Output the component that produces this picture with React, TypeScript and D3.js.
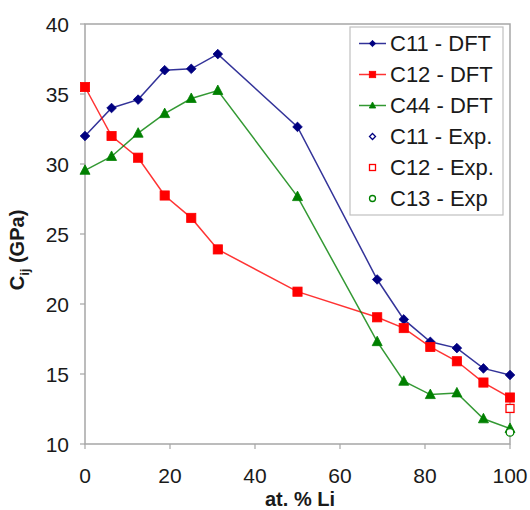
import React from "react";
import * as d3 from "d3";

const xs = [0, 6.25, 12.5, 18.75, 25, 31.25, 50, 68.75, 75, 81.25, 87.5, 93.75, 100];
const c11Dft = [32.0, 34.0, 34.6, 36.7, 36.8, 37.85, 32.65, 21.75, 18.9, 17.3, 16.85, 15.4, 14.93];
const c12Dft = [35.5, 32.0, 30.45, 27.75, 26.15, 23.9, 20.88, 19.05, 18.28, 16.93, 15.91, 14.39, 13.32];
const c44Dft = [29.55, 30.54, 32.2, 33.6, 34.68, 35.25, 27.67, 17.31, 14.48, 13.53, 13.65, 11.8, 11.11];
const expX = [100];
const c11Exp = [14.93];
const c12Exp = [12.54];
const c13Exp = [10.83];
const xTicks = [0, 20, 40, 60, 80, 100];
const yTicks = [10, 15, 20, 25, 30, 35, 40];

const W = 530, H = 510;
const L = 85, R = 510, T = 24, B = 444;
const FONT = "'Liberation Sans', Arial, sans-serif";
const BLUE = "#000080", RED = "#ff0000", GREEN = "#008000";

function Marker({ kind, x, y, s, color, open }: any) {
  const fill = open ? "white" : color;
  const sw = open ? 1.3 : 0.8;
  if (kind === "diamond")
    return <path d={`M${x},${y - s}L${x + s},${y}L${x},${y + s}L${x - s},${y}Z`} fill={fill} stroke={color} strokeWidth={sw} />;
  if (kind === "square")
    return <rect x={x - s} y={y - s} width={2 * s} height={2 * s} fill={fill} stroke={color} strokeWidth={sw} />;
  if (kind === "triangle")
    return <path d={`M${x},${y - s * 1.1}L${x + s},${y + s * 0.8}L${x - s},${y + s * 0.8}Z`} fill={fill} stroke={color} strokeWidth={sw} />;
  return <circle cx={x} cy={y} r={s} fill={fill} stroke={color} strokeWidth={sw} />;
}

export default function App() {
  const x = d3.scaleLinear().domain([0, 100]).range([L, R]);
  const y = d3.scaleLinear().domain([10, 40]).range([B, T]);
  const line = d3.line<number>().x((_, i) => x(xs[i])).y((d) => y(d));

  const dft = [
    { name: "C11 - DFT", vals: c11Dft, color: BLUE, kind: "diamond", s: 4.8 },
    { name: "C12 - DFT", vals: c12Dft, color: RED, kind: "square", s: 4.6 },
    { name: "C44 - DFT", vals: c44Dft, color: GREEN, kind: "triangle", s: 5 },
  ];
  const exp = [
    { name: "C11 - Exp.", vals: c11Exp, color: BLUE, kind: "diamond", s: 4 },
    { name: "C12 - Exp.", vals: c12Exp, color: RED, kind: "square", s: 4 },
    { name: "C13 - Exp", vals: c13Exp, color: GREEN, kind: "circle", s: 3.8 },
  ];

  const legendY0 = 43.5, legendDy = 31;

  return (
    <svg width={W} height={H} style={{ position: "absolute", left: 0, top: 0, fontFamily: FONT }}>
      <rect width={W} height={H} fill="white" />
      <rect x={L} y={T} width={R - L} height={B - T} fill="none" stroke="#a6a6a6" strokeWidth={1.5} />
      {yTicks.map((t) => (
        <g key={"y" + t}>
          <line x1={L - 5} x2={L} y1={y(t)} y2={y(t)} stroke="#a6a6a6" strokeWidth={1.2} />
          <text x={69} y={y(t)} dy="0.36em" textAnchor="end" fontSize={21} fill="#1a1a1a">{t}</text>
        </g>
      ))}
      {xTicks.map((t) => (
        <g key={"x" + t}>
          <line x1={x(t)} x2={x(t)} y1={B} y2={B + 5} stroke="#a6a6a6" strokeWidth={1.2} />
          <text x={x(t)} y={483} textAnchor="middle" fontSize={21} fill="#1a1a1a">{t}</text>
        </g>
      ))}
      <text x={300} y={506} textAnchor="middle" fontSize={20} fontWeight="bold" fill="#1a1a1a">at. % Li</text>
      <text transform="translate(24,250) rotate(-90)" textAnchor="middle" fontSize={20} fontWeight="bold" fill="#1a1a1a">
        C<tspan fontSize={13} dy={5}>ij</tspan><tspan dy={-5}> (GPa)</tspan>
      </text>
      {dft.map((s) => (
        <g key={s.name}>
          <path d={line(s.vals) || ""} fill="none" stroke={s.color} strokeWidth={1.5} opacity={0.8} />
          {s.vals.map((v, i) => (
            <Marker key={i} kind={s.kind} x={x(xs[i])} y={y(v)} s={s.s} color={s.color} />
          ))}
        </g>
      ))}
      {exp.map((s) => (
        <g key={s.name}>
          {s.vals.map((v, i) =>
            s.name.startsWith("C11") ? null : (
              <Marker key={i} kind={s.kind} x={x(expX[i])} y={y(v)} s={s.s} color={s.color} open />
            )
          )}
        </g>
      ))}
      <rect x={350} y={27} width={153} height={188} fill="white" stroke="#c0c0c0" strokeWidth={1.2} />
      {[...dft, ...exp].map((s, i) => {
        const ly = legendY0 + i * legendDy;
        const isLine = i < 3;
        return (
          <g key={"lg" + s.name}>
            {isLine && <line x1={359} x2={386} y1={ly} y2={ly} stroke={s.color} strokeWidth={1.5} opacity={0.8} />}
            <Marker kind={s.kind} x={372.5} y={ly} s={isLine ? 3.2 : 3} color={s.color} open={!isLine} />
            <text x={390} y={ly} dy="0.36em" fontSize={22} fill="#1a1a1a">{s.name}</text>
          </g>
        );
      })}
    </svg>
  );
}
